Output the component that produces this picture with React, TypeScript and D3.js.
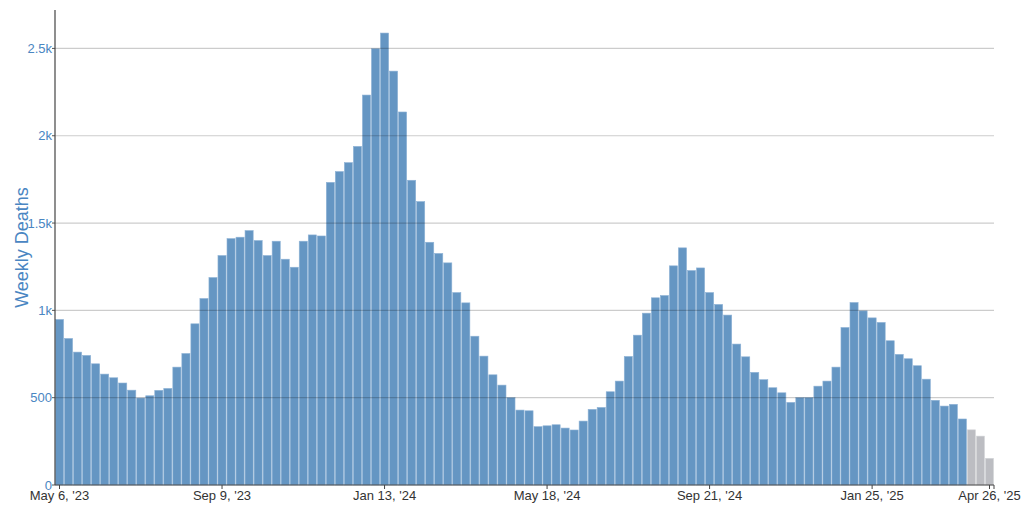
import React from "react";
import * as d3 from "d3";

const startDate = "2023-05-06";
const weeklyDeaths: number[] = [
  948, 839, 761, 742, 694, 635, 614, 584, 543, 498,
  511, 542, 553, 675, 753, 923, 1068, 1188, 1314, 1411,
  1419, 1457, 1400, 1314, 1396, 1293, 1247, 1396, 1432, 1426,
  1733, 1795, 1846, 1939, 2233, 2498, 2588, 2370, 2136, 1745,
  1623, 1390, 1326, 1272, 1102, 1043, 852, 738, 631, 572,
  500, 429, 425, 334, 339, 345, 326, 315, 366, 433,
  444, 534, 595, 736, 858, 984, 1072, 1085, 1255, 1358,
  1228, 1243, 1102, 1034, 973, 807, 734, 645, 603, 557,
  528, 473, 500, 500, 566, 595, 675, 902, 1045, 997,
  957, 931, 826, 748, 723, 683, 606, 485, 452, 462,
  378, 316, 280, 153,
];
const provisionalCount = 3;
const yTicks = [0, 500, 1000, 1500, 2000, 2500];
const yTickLabels = ["0", "500", "1k", "1.5k", "2k", "2.5k"];
const xTickIndices = [0, 18, 36, 54, 72, 90, 103];

const W = 1024;
const H = 506;
const M = { left: 55, right: 30, top: 10, bottom: 21 };

export default function App() {
  const parse = d3.timeParse("%Y-%m-%d");
  const start = parse(startDate) as Date;
  const dates = weeklyDeaths.map((_, i) => d3.timeDay.offset(start, i * 7));
  const fmt = d3.timeFormat("%b %-d, '%y");

  const x = d3
    .scaleBand<number>()
    .domain(d3.range(weeklyDeaths.length))
    .range([M.left, W - M.right])
    .paddingInner(0.1)
    .paddingOuter(0.05);
  const y = d3.scaleLinear().domain([0, 2720]).range([H - M.bottom, M.top]);
  const font = "'Liberation Sans', Arial, Helvetica, sans-serif";
  const n = weeklyDeaths.length;

  return (
    <svg
      width={W}
      height={H}
      style={{ position: "absolute", left: 0, top: 0, background: "#fff" }}
      fontFamily={font}
    >
      {weeklyDeaths.map((v, i) => (
        <rect
          key={i}
          x={x(i)}
          y={y(v)}
          width={x.bandwidth()}
          height={y(0) - y(v)}
          fill={i >= n - provisionalCount ? "#bcbdc2" : "#6596c3"}
          stroke={i >= n - provisionalCount ? "#d6d7da" : "#8fb3d6"}
          strokeWidth={0.6}
        />
      ))}
      {yTicks.slice(1).map((t) => (
        <line
          key={t}
          x1={M.left}
          x2={W - M.right}
          y1={y(t)}
          y2={y(t)}
          stroke="#000"
          strokeOpacity={0.2}
          strokeWidth={1.2}
        />
      ))}
      {yTicks.map((t, i) => (
        <g key={t}>
          <line x1={M.left - 3} x2={M.left} y1={y(t)} y2={y(t)} stroke="#555" />
          <text
            x={M.left - 3}
            y={y(t)}
            dy="0.35em"
            textAnchor="end"
            fontSize={13}
            fill="#4a86c2"
          >
            {yTickLabels[i]}
          </text>
        </g>
      ))}
      <line x1={M.left} x2={M.left} y1={M.top} y2={y(0)} stroke="#444" strokeWidth={1.2} />
      <line x1={M.left} x2={W - M.right} y1={y(0)} y2={y(0)} stroke="#444" strokeWidth={1.2} />
      <line x1={W - M.right} x2={W - M.right} y1={y(0)} y2={y(0) + 4} stroke="#444" />
      {xTickIndices.map((i) => {
        const cx = (x(i) as number) + x.bandwidth() / 2;
        return (
          <g key={i}>
            <line x1={cx} x2={cx} y1={y(0)} y2={y(0) + 4} stroke="#444" />
            <text x={cx} y={y(0) + 15} textAnchor="middle" fontSize={13} fill="#333">
              {fmt(dates[i])}
            </text>
          </g>
        );
      })}
      <text
        transform={`translate(22, ${(M.top + y(0)) / 2 + 0}) rotate(-90)`}
        textAnchor="middle"
        dy="0.35em"
        fontSize={18}
        fill="#4a86c2"
      >
        Weekly Deaths
      </text>
    </svg>
  );
}
